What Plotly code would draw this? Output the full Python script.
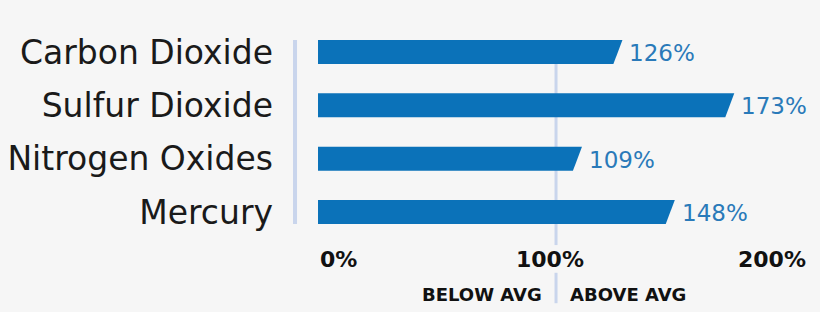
import plotly.graph_objects as go

categories = ["Carbon Dioxide", "Sulfur Dioxide", "Nitrogen Oxides", "Mercury"]
values = [126, 173, 109, 148]
value_labels = ["126%", "173%", "109%", "148%"]
tick_values = [0, 100, 200]
tick_labels = ["0%", "100%", "200%"]

BAR = "#0b72b9"
LABEL = "#2a7ab9"
GUIDE = "#c9d5ec"
BG = "#f6f6f6"
FONT = "DejaVu Sans"

half = 0.225   # half bar thickness (category units)
slant = 3.8    # horizontal slant of the bar tip (value units)

fig = go.Figure()
for i, (v, lab) in enumerate(zip(values, value_labels)):
    xs = [0, v + slant / 2, v - slant / 2, 0, 0]
    ys = [i - half, i - half, i + half, i + half, i - half]
    fig.add_trace(go.Scatter(x=xs, y=ys, mode="lines", fill="toself",
                             fillcolor=BAR, line=dict(width=0, color=BAR),
                             hoverinfo="skip", showlegend=False))
    fig.add_annotation(x=v + slant / 2, y=i, text=lab, showarrow=False,
                       xanchor="left", yanchor="middle", xshift=5, yshift=-1,
                       font=dict(family=FONT, size=23, color=LABEL))

# guide lines
fig.add_shape(type="line", xref="x", yref="y", x0=-9.66, x1=-9.66,
              y0=-half, y1=len(categories) - 1 + half,
              line=dict(color=GUIDE, width=4), layer="below")
fig.add_shape(type="line", xref="x", yref="y", x0=100, x1=100,
              y0=-half, y1=3.62, line=dict(color=GUIDE, width=3), layer="below")
fig.add_shape(type="line", xref="x", yref="y", x0=100, x1=100,
              y0=4.14, y1=4.71, line=dict(color=GUIDE, width=3), layer="below")

# x tick labels
anchors = ["left", "center", "right"]
shifts = [0, -6, 14]
for tv, tl, a, s in zip(tick_values, tick_labels, anchors, shifts):
    fig.add_annotation(x=tv, y=3.895, xref="x", yref="y", text="<b>%s</b>" % tl,
                       showarrow=False, xanchor=a, yanchor="middle", xshift=s,
                       font=dict(family=FONT, size=22, color="#111111"))
fig.add_annotation(x=100, y=4.54, text="<b>BELOW AVG</b>", showarrow=False,
                   xanchor="right", yanchor="middle", xshift=-12,
                   font=dict(family=FONT, size=18, color="#111111"))
fig.add_annotation(x=100, y=4.54, text="<b>ABOVE AVG</b>", showarrow=False,
                   xanchor="left", yanchor="middle", xshift=12,
                   font=dict(family=FONT, size=18, color="#111111"))

fig.update_layout(
    width=820, height=312,
    margin=dict(l=280, r=0, t=0, b=0),
    paper_bgcolor=BG, plot_bgcolor=BG,
    xaxis=dict(range=[-15.97, 210.9], visible=False, fixedrange=True),
    yaxis=dict(range=[4.875, -0.975], tickmode="array",
               tickvals=list(range(len(categories))), ticktext=categories,
               showgrid=False, zeroline=False, showline=False, ticks="",
               ticklabelstandoff=6,
               tickfont=dict(family=FONT, size=33, color="#1a1a1a")),
)

fig.write_html("out.html")
